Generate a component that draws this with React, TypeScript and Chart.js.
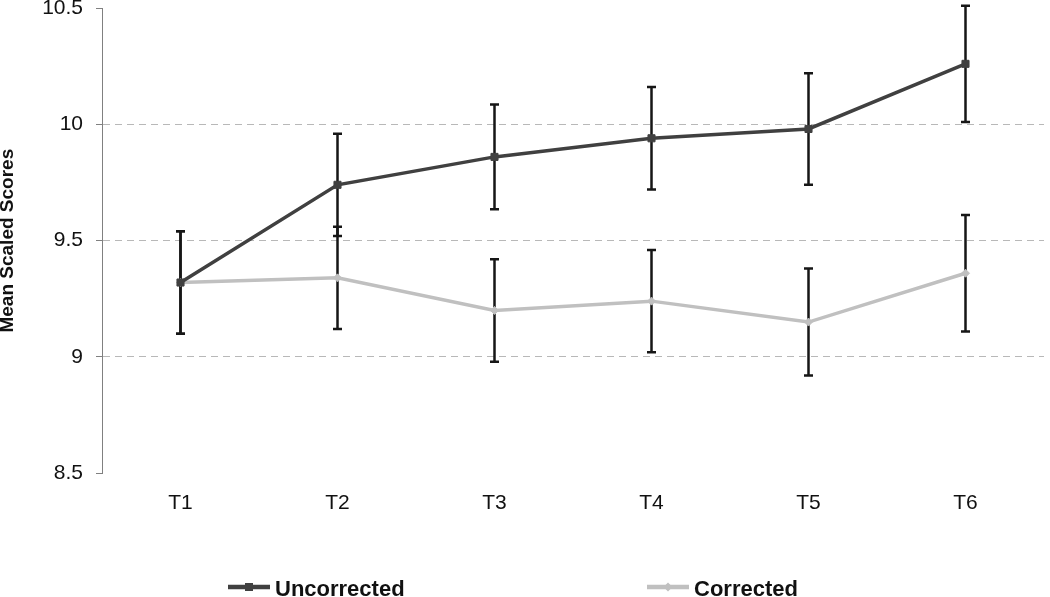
import React, { useEffect, useRef } from "react";
import { Chart, registerables } from "chart.js";

Chart.register(...registerables);

const FONT = "'Liberation Sans', Arial, Helvetica, sans-serif";

const categories = ["T1", "T2", "T3", "T4", "T5", "T6"];
const uncorrected = [9.32, 9.74, 9.86, 9.94, 9.98, 10.26];
const uncorrectedError = [0.22, 0.22, 0.225, 0.22, 0.24, 0.25];
const corrected = [9.32, 9.34, 9.2, 9.24, 9.15, 9.36];
const correctedError = [0.22, 0.22, 0.22, 0.22, 0.23, 0.25];
const yTicks = [8.5, 9, 9.5, 10, 10.5];
const gridValues = [9, 9.5, 10];
const seriesNames = ["Uncorrected", "Corrected"];
const seriesColors = ["#404040", "#c0c0c0"];
const errorArrays = [uncorrectedError, correctedError];

const errorBarPlugin = {
  id: "errorBars",
  beforeDatasetsDraw(chart: any) {
    const ctx = chart.ctx;
    const yScale = chart.scales.y;
    chart.data.datasets.forEach((ds: any, i: number) => {
      const meta = chart.getDatasetMeta(i);
      const errs = errorArrays[i];
      meta.data.forEach((pt: any, j: number) => {
        const v = ds.data[j];
        const e = errs[j];
        const top = yScale.getPixelForValue(v + e);
        const bot = yScale.getPixelForValue(v - e);
        const x = pt.x;
        const cap = 4.5;
        ctx.save();
        ctx.strokeStyle = "#161616";
        ctx.lineWidth = 2.5;
        ctx.beginPath();
        ctx.moveTo(x, top);
        ctx.lineTo(x, bot);
        ctx.moveTo(x - cap, top);
        ctx.lineTo(x + cap, top);
        ctx.moveTo(x - cap, bot);
        ctx.lineTo(x + cap, bot);
        ctx.stroke();
        ctx.restore();
      });
    });
  },
};

const legendPlugin = {
  id: "bottomLegend",
  afterDraw(chart: any) {
    const ctx = chart.ctx;
    const starts = [228, 647];
    const lineLen = 42;
    const y = 587;
    chart.data.datasets.forEach((ds: any, i: number) => {
      const x0 = starts[i];
      ctx.save();
      ctx.strokeStyle = ds.borderColor;
      ctx.lineWidth = 4.5;
      ctx.beginPath();
      ctx.moveTo(x0, y);
      ctx.lineTo(x0 + lineLen, y);
      ctx.stroke();
      ctx.fillStyle = ds.borderColor;
      const cx = x0 + lineLen / 2;
      if (i === 0) {
        ctx.fillRect(cx - 4, y - 4, 8, 8);
      } else {
        ctx.beginPath();
        ctx.moveTo(cx, y - 4.5);
        ctx.lineTo(cx + 4.5, y);
        ctx.lineTo(cx, y + 4.5);
        ctx.lineTo(cx - 4.5, y);
        ctx.closePath();
        ctx.fill();
      }
      ctx.fillStyle = "#111111";
      ctx.font = `bold 22px ${FONT}`;
      ctx.textBaseline = "alphabetic";
      ctx.textAlign = "left";
      ctx.fillText(ds.label, x0 + lineLen + 5, 596);
      ctx.restore();
    });
  },
};

export default function App() {
  const canvasRef = useRef<HTMLCanvasElement | null>(null);

  useEffect(() => {
    if (!canvasRef.current) return;
    Chart.defaults.font.family = FONT;
    const chart = new Chart(canvasRef.current, {
      type: "line",
      data: {
        labels: categories,
        datasets: [
          {
            label: seriesNames[0],
            data: uncorrected,
            borderColor: seriesColors[0],
            backgroundColor: seriesColors[0],
            borderWidth: 3.5,
            pointStyle: "rect",
            pointRadius: 5,
            pointBorderWidth: 1,
            tension: 0,
          },
          {
            label: seriesNames[1],
            data: corrected,
            borderColor: seriesColors[1],
            backgroundColor: seriesColors[1],
            borderWidth: 3.5,
            pointStyle: "rectRot",
            pointRadius: 4,
            pointBorderWidth: 1,
            tension: 0,
          },
        ],
      },
      options: {
        responsive: false,
        animation: false,
        layout: { padding: { top: 8, right: 2.4, left: 0, bottom: 0 } },
        plugins: {
          legend: { display: false },
          tooltip: { enabled: false },
        },
        scales: {
          x: {
            type: "category",
            offset: true,
            grid: { display: false, drawTicks: false },
            border: { display: false },
            ticks: { padding: 17, color: "#111111", font: { size: 21, family: FONT } },
            afterFit: (s: any) => {
              s.height = 123.7;
              s.paddingLeft = 0;
              s.paddingRight = 0;
            },
          },
          y: {
            type: "linear",
            min: 8.5,
            max: 10.5,
            afterBuildTicks: (s: any) => {
              s.ticks = yTicks.map((v) => ({ value: v }));
            },
            ticks: {
              padding: 13,
              color: "#111111",
              font: { size: 21, family: FONT },
              callback: (value: any) => String(value),
            },
            grid: {
              color: (ctx: any) =>
                ctx.tick && gridValues.includes(ctx.tick.value) ? "#b8b8b8" : "rgba(0,0,0,0)",
              tickColor: "#808080",
              tickLength: 6,
              lineWidth: 1,
            },
            border: { display: true, color: "#808080", width: 1, dash: [7, 5] },
            title: {
              display: true,
              text: "Mean Scaled Scores",
              color: "#111111",
              font: { size: 19, weight: "bold", family: FONT, lineHeight: 0.85 },
              padding: { top: 0, bottom: 0 },
            },
            afterFit: (s: any) => {
              s.width = 102;
              s.paddingTop = 0;
              s.paddingBottom = 0;
            },
          },
        },
      } as any,
      plugins: [errorBarPlugin, legendPlugin],
    });
    return () => chart.destroy();
  }, []);

  return (
    <div style={{ position: "fixed", left: 0, top: 0, width: 1050, height: 597, background: "#fff" }}>
      <canvas ref={canvasRef} width={1050} height={597} style={{ display: "block" }} />
    </div>
  );
}
